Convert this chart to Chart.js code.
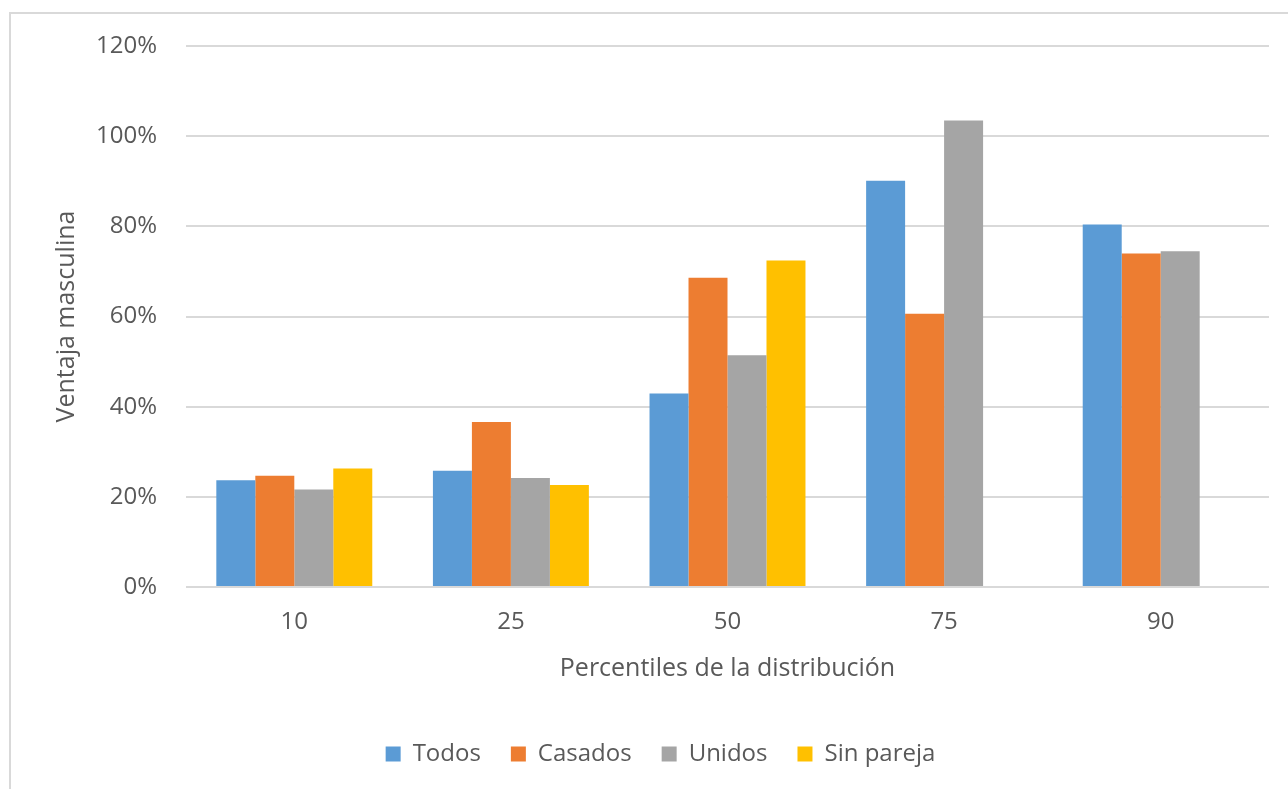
<!DOCTYPE html>
<html>
<head>
<meta charset="utf-8">
<script src="https://cdn.jsdelivr.net/npm/chart.js@4"></script>
<style>
    html, body { margin: 0; padding: 0; background: #ffffff; overflow: hidden; }
    #frame {
        position: absolute; left: 9px; top: 12px;
        width: 1400px; height: 900px;
        border: 2px solid #d9d9d9;
    }
    #wrap { position: absolute; left: 0; top: 0; width: 1288px; height: 789px; }
</style>
</head>
<body>
<div id="frame"></div>
<div id="wrap"><canvas id="myChart"></canvas></div>
<script>
// percentiles of the distribution
const categories = ['10', '25', '50', '75', '90'];

// male advantage, in percent
const todos = [23.7, 25.8, 42.9, 90.1, 80.4];
const casados = [24.7, 36.6, 68.6, 60.6, 74.0];
const unidos = [21.6, 24.2, 51.4, 103.5, 74.5];
const sinPareja = [26.3, 22.6, 72.4, null, null];

const seriesNames = ['Todos', 'Casados', 'Unidos', 'Sin pareja'];
const seriesColors = ['#5B9BD5', '#ED7D31', '#A5A5A5', '#FFC000'];

const yTicks = [0, 20, 40, 60, 80, 100, 120];

Chart.defaults.font.family = "'Open Sans', sans-serif";
Chart.defaults.color = '#595959';

var ctx = document.getElementById("myChart");
var myChart = new Chart(ctx, {
    type: 'bar',
    data: {
        labels: categories,
        datasets: [todos, casados, unidos, sinPareja].map((values, i) => ({
            label: seriesNames[i],
            data: values,
            backgroundColor: seriesColors[i],
            borderWidth: 0,
            categoryPercentage: 0.72,
            barPercentage: 1.0
        }))
    },
    options: {
        responsive: true,
        maintainAspectRatio: false,
        animation: false,
        events: [],
        layout: {
            padding: { top: 46, left: 52, right: 19, bottom: 13 }
        },
        plugins: {
            tooltip: { enabled: false },
            legend: {
                position: 'bottom',
                labels: {
                    boxWidth: 15,
                    boxHeight: 15,
                    padding: 30,
                    color: '#595959',
                    font: { size: 24 }
                }
            }
        },
        scales: {
            y: {
                min: 0,
                max: 120,
                afterBuildTicks: function(scale) {
                    scale.ticks = yTicks.map(v => ({ value: v }));
                },
                afterFit: function(scale) {
                    scale.width = 134;
                },
                grid: {
                    color: '#d9d9d9',
                    lineWidth: 2,
                    drawTicks: false
                },
                border: { display: false },
                ticks: {
                    padding: 29,
                    color: '#595959',
                    font: { size: 24 },
                    callback: function(value) {
                        return value + '%';
                    }
                },
                title: {
                    display: true,
                    text: 'Ventaja masculina',
                    color: '#595959',
                    font: { size: 25 },
                    padding: { top: 0, bottom: 0 }
                }
            },
            x: {
                afterFit: function(scale) {
                    scale.height = 125;
                },
                grid: {
                    display: false,
                    drawTicks: false
                },
                border: { display: false },
                ticks: {
                    padding: 21,
                    color: '#595959',
                    font: { size: 24 }
                },
                title: {
                    display: true,
                    text: 'Percentiles de la distribución',
                    color: '#595959',
                    font: { size: 25 },
                    padding: { top: 0, bottom: 28 }
                }
            }
        }
    }
});
</script>
</body>
</html>
